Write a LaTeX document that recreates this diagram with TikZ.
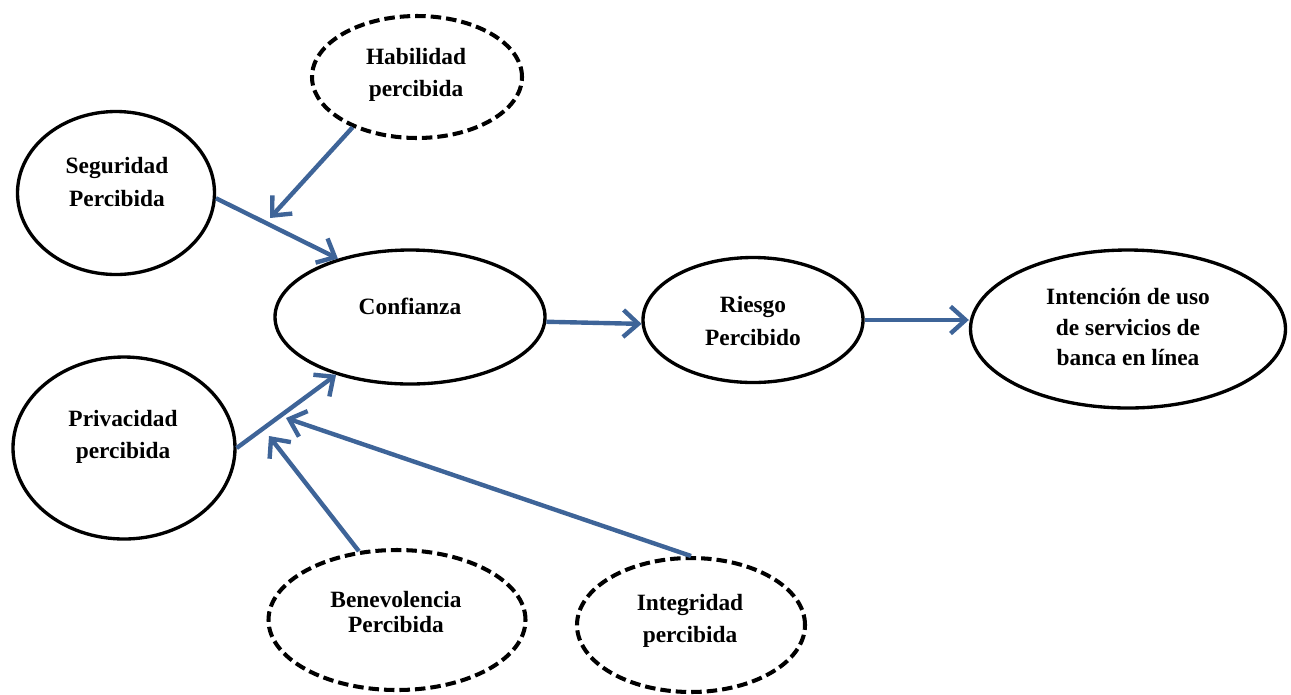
\documentclass[tikz,border=0pt]{standalone}
\usepackage{fontspec}
\setmainfont{Liberation Serif}
\usetikzlibrary{shapes.geometric,arrows.meta}
\definecolor{arrowblue}{RGB}{62,100,152}
\begin{document}
\begin{tikzpicture}[x=0.02cm,y=-0.02cm,
  esize/.style 2 args={minimum width=#1*0.02cm, minimum height=#2*0.02cm},
  ell/.style={ellipse, draw=black, line width=1.9pt, inner sep=0pt, fill=white},
  dashell/.style={ell, line width=2.3pt, dash pattern=on 0.21cm off 0.1cm},
  lbl/.style={align=center, inner sep=0pt, font=\bfseries\fontsize{13.3}{18.5}\selectfont},
  link/.style={draw=arrowblue, line width=2.5pt,
    -{Straight Barb[length=0.3cm, width=0.54cm, line width=2.5pt]}}]
  \useasboundingbox (0,0) rectangle (1291,694);

  % constructs
  \node[dashell, esize={210}{122}] (hab) at (417,77) {};
  \node[lbl] (habT) at (416,75) {Habilidad\\percibida};

  \node[ell, esize={197}{163}] (seg) at (116,193) {};
  \node[lbl] (segT) at (117,182) {Seguridad\\Percibida};

  \node[ell, esize={270}{134}] (conf) at (410,317) {};
  \node[lbl] (confT) at (410,306) {Confianza};

  \node[ell, esize={220}{125}] (ries) at (753,320) {};
  \node[lbl] (riesT) at (753,321) {Riesgo\\Percibido};

  \node[ell, esize={315}{158}] (int) at (1128,329) {};
  \node[lbl, font=\bfseries\fontsize{13.3}{17.5}\selectfont] (intT) at (1128,327) {Intención de uso\\de servicios de\\banca en línea};

  \node[ell, esize={222}{182}] (priv) at (124,448) {};
  \node[lbl] (privT) at (123,437) {Privacidad\\percibida};

  \node[dashell, esize={257}{140}] (bene) at (397,620) {};
  \node[lbl, font=\bfseries\fontsize{13.3}{14}\selectfont] (beneT) at (396,612) {Benevolencia\\Percibida};

  \node[dashell, esize={228}{134}] (integ) at (691,625) {};
  \node[lbl] (integT) at (690,621) {Integridad\\percibida};

  % free ends of the moderating arrows
  \coordinate (habEnd) at (270,218);
  \coordinate (beneEnd) at (269,436);
  \coordinate (integEnd) at (286,418);

  % relations
  \draw[link] (hab.218) -- (habEnd);
  \draw[link] (seg.-3) -- (conf.141);
  \draw[link] (priv.east) -- (conf.218);
  \draw[link] (conf.-2) -- (ries.182);
  \draw[link] (ries.east) -- (int.west |- ries.east);
  \draw[link] (bene.119) -- (beneEnd);
  \draw[link] (integ.north) -- (integEnd);
\end{tikzpicture}
\end{document}
